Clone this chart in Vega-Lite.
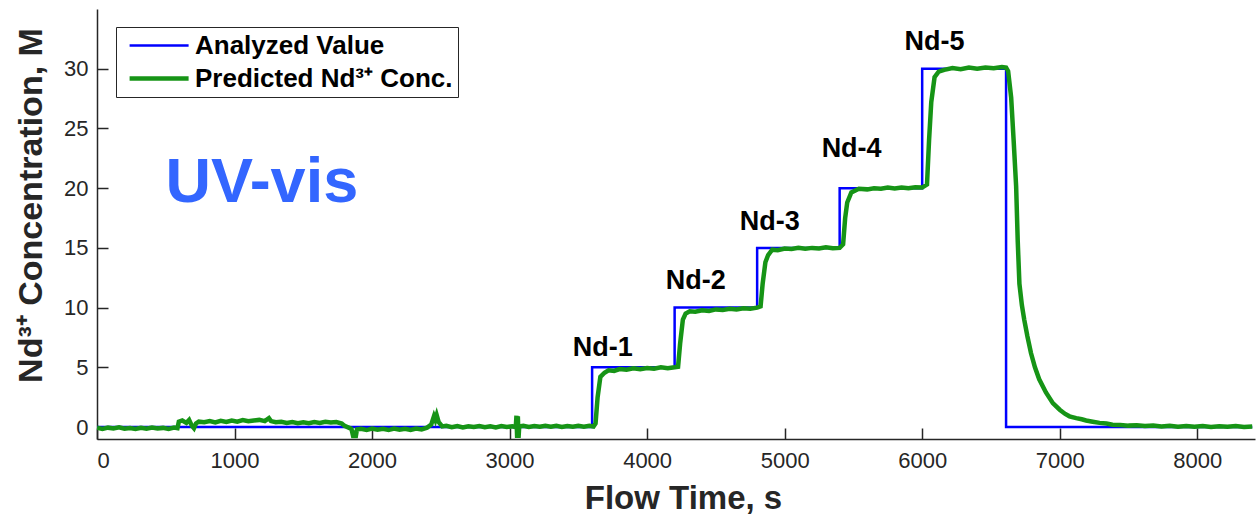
{
  "$schema": "https://vega.github.io/schema/vega-lite/v6.json",
  "width": 1158,
  "height": 430,
  "autosize": "none",
  "padding": {"left": 97, "top": 9, "right": 3, "bottom": 80},
  "background": "white",
  "config": {
    "view": {"stroke": null},
    "font": "Liberation Sans",
    "axis": {
      "grid": false,
      "domainColor": "#262626",
      "domainWidth": 1.5,
      "tickColor": "#262626",
      "tickWidth": 1.5,
      "tickSize": -11,
      "labelFont": "Liberation Sans",
      "labelFontSize": 22,
      "labelColor": "#262626",
      "titleFont": "Liberation Sans",
      "titleFontSize": 33,
      "titleFontWeight": "bold",
      "titleColor": "#262626"
    },
    "legend": {
      "orient": "none",
      "legendX": 19,
      "legendY": 18,
      "strokeColor": "#262626",
      "fillColor": "white",
      "padding": 5,
      "symbolType": "M-0.5,0H4.5",
      "symbolSize": 557,
      "labelFont": "Liberation Sans",
      "labelFontSize": 26,
      "labelFontWeight": "bold",
      "labelColor": "black",
      "labelOffset": 45,
      "labelLimit": 0,
      "rowPadding": 5,
      "title": null
    }
  },
  "datasets": {
    "analyzed": [
      {"t": 0, "c": 0}, {"t": 3600, "c": 0}, {"t": 3600, "c": 5}, {"t": 4200, "c": 5},
      {"t": 4200, "c": 10}, {"t": 4800, "c": 10}, {"t": 4800, "c": 15}, {"t": 5400, "c": 15},
      {"t": 5400, "c": 20}, {"t": 6000, "c": 20}, {"t": 6000, "c": 30}, {"t": 6610, "c": 30},
      {"t": 6610, "c": 0}, {"t": 8400, "c": 0}
    ],
    "predicted": [
      {"t": 0, "c": -0.05}, {"t": 40, "c": -0.15}, {"t": 80, "c": -0.05}, {"t": 120, "c": -0.12},
      {"t": 160, "c": -0.02}, {"t": 200, "c": -0.14}, {"t": 240, "c": -0.08}, {"t": 280, "c": -0.16},
      {"t": 320, "c": -0.06}, {"t": 360, "c": -0.13}, {"t": 400, "c": -0.04}, {"t": 440, "c": -0.12},
      {"t": 480, "c": -0.07}, {"t": 520, "c": -0.15}, {"t": 560, "c": -0.05}, {"t": 585, "c": -0.1},
      {"t": 595, "c": 0.45}, {"t": 620, "c": 0.55}, {"t": 650, "c": 0.35}, {"t": 670, "c": 0.6},
      {"t": 690, "c": 0.1}, {"t": 705, "c": -0.1}, {"t": 720, "c": 0.3}, {"t": 740, "c": 0.45},
      {"t": 780, "c": 0.4}, {"t": 820, "c": 0.5}, {"t": 860, "c": 0.38}, {"t": 900, "c": 0.52},
      {"t": 940, "c": 0.42}, {"t": 980, "c": 0.55}, {"t": 1020, "c": 0.45}, {"t": 1060, "c": 0.58},
      {"t": 1100, "c": 0.48}, {"t": 1140, "c": 0.55}, {"t": 1180, "c": 0.6}, {"t": 1220, "c": 0.5},
      {"t": 1250, "c": 0.75}, {"t": 1265, "c": 0.5}, {"t": 1300, "c": 0.4}, {"t": 1340, "c": 0.45},
      {"t": 1380, "c": 0.35}, {"t": 1420, "c": 0.42}, {"t": 1460, "c": 0.33}, {"t": 1500, "c": 0.4},
      {"t": 1540, "c": 0.32}, {"t": 1580, "c": 0.42}, {"t": 1620, "c": 0.35}, {"t": 1660, "c": 0.45},
      {"t": 1700, "c": 0.38}, {"t": 1740, "c": 0.42}, {"t": 1780, "c": 0.3}, {"t": 1800, "c": 0.1},
      {"t": 1830, "c": -0.05}, {"t": 1850, "c": -0.15}, {"t": 1865, "c": -0.9}, {"t": 1872, "c": -0.3},
      {"t": 1880, "c": -0.9}, {"t": 1890, "c": -0.2}, {"t": 1920, "c": -0.15}, {"t": 1960, "c": -0.25},
      {"t": 2000, "c": -0.12}, {"t": 2040, "c": -0.22}, {"t": 2080, "c": -0.15}, {"t": 2120, "c": -0.25},
      {"t": 2160, "c": -0.12}, {"t": 2200, "c": -0.22}, {"t": 2240, "c": -0.14}, {"t": 2280, "c": -0.24},
      {"t": 2320, "c": -0.12}, {"t": 2360, "c": -0.2}, {"t": 2400, "c": -0.05}, {"t": 2430, "c": 0.2},
      {"t": 2450, "c": 0.9}, {"t": 2460, "c": 0.6}, {"t": 2470, "c": 1.0}, {"t": 2485, "c": 0.4},
      {"t": 2510, "c": 0.05}, {"t": 2540, "c": 0.1}, {"t": 2580, "c": -0.02}, {"t": 2620, "c": 0.08},
      {"t": 2660, "c": -0.03}, {"t": 2700, "c": 0.07}, {"t": 2740, "c": 0.0}, {"t": 2780, "c": 0.09},
      {"t": 2820, "c": -0.02}, {"t": 2860, "c": 0.06}, {"t": 2900, "c": -0.03}, {"t": 2940, "c": 0.08},
      {"t": 2980, "c": 0.0}, {"t": 3020, "c": 0.07}, {"t": 3045, "c": 0.0}, {"t": 3050, "c": 0.95},
      {"t": 3055, "c": -0.9}, {"t": 3060, "c": 0.9}, {"t": 3065, "c": -0.9}, {"t": 3070, "c": 0.05},
      {"t": 3100, "c": 0.1}, {"t": 3140, "c": 0.0}, {"t": 3180, "c": 0.08}, {"t": 3220, "c": 0.02},
      {"t": 3260, "c": 0.1}, {"t": 3300, "c": 0.03}, {"t": 3340, "c": 0.1}, {"t": 3380, "c": 0.0},
      {"t": 3420, "c": 0.09}, {"t": 3460, "c": 0.02}, {"t": 3500, "c": 0.1}, {"t": 3540, "c": 0.03},
      {"t": 3580, "c": 0.1}, {"t": 3610, "c": 0.05}, {"t": 3625, "c": 0.3}, {"t": 3640, "c": 2.5},
      {"t": 3660, "c": 4.2}, {"t": 3690, "c": 4.55}, {"t": 3720, "c": 4.75}, {"t": 3760, "c": 4.7},
      {"t": 3800, "c": 4.85}, {"t": 3850, "c": 4.8}, {"t": 3900, "c": 4.92}, {"t": 3950, "c": 4.85},
      {"t": 4000, "c": 4.95}, {"t": 4050, "c": 4.88}, {"t": 4100, "c": 5.0}, {"t": 4150, "c": 4.92},
      {"t": 4200, "c": 5.0}, {"t": 4225, "c": 5.05}, {"t": 4240, "c": 7.0}, {"t": 4260, "c": 9.0},
      {"t": 4280, "c": 9.5}, {"t": 4310, "c": 9.7}, {"t": 4350, "c": 9.65}, {"t": 4400, "c": 9.78},
      {"t": 4450, "c": 9.72}, {"t": 4500, "c": 9.85}, {"t": 4550, "c": 9.8}, {"t": 4600, "c": 9.9},
      {"t": 4650, "c": 9.85}, {"t": 4700, "c": 9.95}, {"t": 4750, "c": 9.9}, {"t": 4800, "c": 10.0},
      {"t": 4825, "c": 10.1}, {"t": 4840, "c": 12.0}, {"t": 4860, "c": 13.8}, {"t": 4880, "c": 14.4},
      {"t": 4910, "c": 14.85}, {"t": 4950, "c": 14.8}, {"t": 5000, "c": 14.95}, {"t": 5050, "c": 14.9},
      {"t": 5100, "c": 15.0}, {"t": 5150, "c": 14.92}, {"t": 5200, "c": 15.0}, {"t": 5250, "c": 14.95},
      {"t": 5300, "c": 15.05}, {"t": 5350, "c": 14.98}, {"t": 5400, "c": 15.0}, {"t": 5425, "c": 15.3},
      {"t": 5440, "c": 17.5}, {"t": 5455, "c": 18.8}, {"t": 5485, "c": 19.65}, {"t": 5540, "c": 19.95},
      {"t": 5600, "c": 19.9}, {"t": 5650, "c": 20.0}, {"t": 5700, "c": 19.95}, {"t": 5750, "c": 20.05},
      {"t": 5800, "c": 19.98}, {"t": 5850, "c": 20.05}, {"t": 5900, "c": 20.0}, {"t": 5950, "c": 20.08},
      {"t": 6000, "c": 20.05}, {"t": 6035, "c": 20.3}, {"t": 6050, "c": 24.0}, {"t": 6066, "c": 27.2},
      {"t": 6090, "c": 29.3}, {"t": 6120, "c": 29.75}, {"t": 6160, "c": 29.9}, {"t": 6220, "c": 30.05},
      {"t": 6280, "c": 29.95}, {"t": 6340, "c": 30.1}, {"t": 6400, "c": 30.0}, {"t": 6460, "c": 30.1},
      {"t": 6520, "c": 30.05}, {"t": 6580, "c": 30.15}, {"t": 6610, "c": 30.1}, {"t": 6625, "c": 29.8},
      {"t": 6647, "c": 27.6}, {"t": 6665, "c": 24.0}, {"t": 6683, "c": 20.2}, {"t": 6695, "c": 15.5},
      {"t": 6707, "c": 12.0}, {"t": 6725, "c": 10.2}, {"t": 6742, "c": 9.0}, {"t": 6765, "c": 7.6},
      {"t": 6791, "c": 6.2}, {"t": 6820, "c": 5.0}, {"t": 6851, "c": 4.0}, {"t": 6900, "c": 2.9},
      {"t": 6950, "c": 2.0}, {"t": 7000, "c": 1.45}, {"t": 7040, "c": 1.1}, {"t": 7071, "c": 0.9},
      {"t": 7120, "c": 0.75}, {"t": 7160, "c": 0.65}, {"t": 7192, "c": 0.55}, {"t": 7240, "c": 0.45},
      {"t": 7290, "c": 0.35}, {"t": 7340, "c": 0.3}, {"t": 7384, "c": 0.2}, {"t": 7440, "c": 0.18},
      {"t": 7500, "c": 0.12}, {"t": 7560, "c": 0.15}, {"t": 7620, "c": 0.08}, {"t": 7680, "c": 0.12},
      {"t": 7740, "c": 0.05}, {"t": 7800, "c": 0.1}, {"t": 7860, "c": 0.03}, {"t": 7920, "c": 0.09},
      {"t": 7980, "c": 0.02}, {"t": 8040, "c": 0.08}, {"t": 8100, "c": 0.0}, {"t": 8160, "c": 0.07},
      {"t": 8220, "c": 0.02}, {"t": 8280, "c": 0.08}, {"t": 8340, "c": 0.0}, {"t": 8400, "c": 0.05}
    ],
    "labels": [
      {"t": 3677, "c": 6.6, "label": "Nd-1"},
      {"t": 4353, "c": 12.25, "label": "Nd-2"},
      {"t": 4891, "c": 17.2, "label": "Nd-3"},
      {"t": 5487, "c": 23.3, "label": "Nd-4"},
      {"t": 6090, "c": 32.2, "label": "Nd-5"}
    ],
    "note": [
      {"t": 1199, "c": 20.46, "label": "UV-vis"}
    ]
  },
  "encoding": {
    "x": {
      "field": "t", "type": "quantitative",
      "scale": {"domain": [0, 8420], "nice": false, "zero": false},
      "axis": {"values": [0, 1000, 2000, 3000, 4000, 5000, 6000, 7000, 8000], "title": "Flow Time, s", "labelPadding": 22, "titlePadding": 11, "titleX": 586, "format": "d"}
    },
    "y": {
      "field": "c", "type": "quantitative",
      "scale": {"domain": [-1, 35], "nice": false, "zero": false},
      "axis": {"values": [0, 5, 10, 15, 20, 25, 30], "title": "Nd³⁺ Concentration, M", "titleFontSize": 34, "labelPadding": 20, "titlePadding": 15, "titleY": 196}
    }
  },
  "layer": [
    {
      "data": {"name": "analyzed"},
      "transform": [{"calculate": "'Analyzed Value'", "as": "series"}],
      "mark": {"type": "line", "clip": true},
      "encoding": {
        "color": {"field": "series", "type": "nominal", "scale": {"domain": ["Analyzed Value", "Predicted Nd³⁺ Conc."], "range": ["#0000ff", "#169416"]}},
        "strokeWidth": {"field": "series", "type": "nominal", "scale": {"domain": ["Analyzed Value", "Predicted Nd³⁺ Conc."], "range": [2.5, 4.5]}}
      }
    },
    {
      "data": {"name": "predicted"},
      "transform": [{"calculate": "'Predicted Nd³⁺ Conc.'", "as": "series"}],
      "mark": {"type": "line", "clip": true},
      "encoding": {
        "color": {"field": "series", "type": "nominal"},
        "strokeWidth": {"field": "series", "type": "nominal"}
      }
    },
    {
      "data": {"name": "labels"},
      "mark": {"type": "text", "font": "Liberation Sans", "fontSize": 27, "fontWeight": "bold", "color": "black", "align": "center", "baseline": "middle"},
      "encoding": {"text": {"field": "label"}}
    },
    {
      "data": {"name": "note"},
      "mark": {"type": "text", "font": "Liberation Sans", "fontSize": 63, "fontWeight": "bold", "color": "#3366ff", "align": "center", "baseline": "middle"},
      "encoding": {"text": {"field": "label"}}
    }
  ]
}
